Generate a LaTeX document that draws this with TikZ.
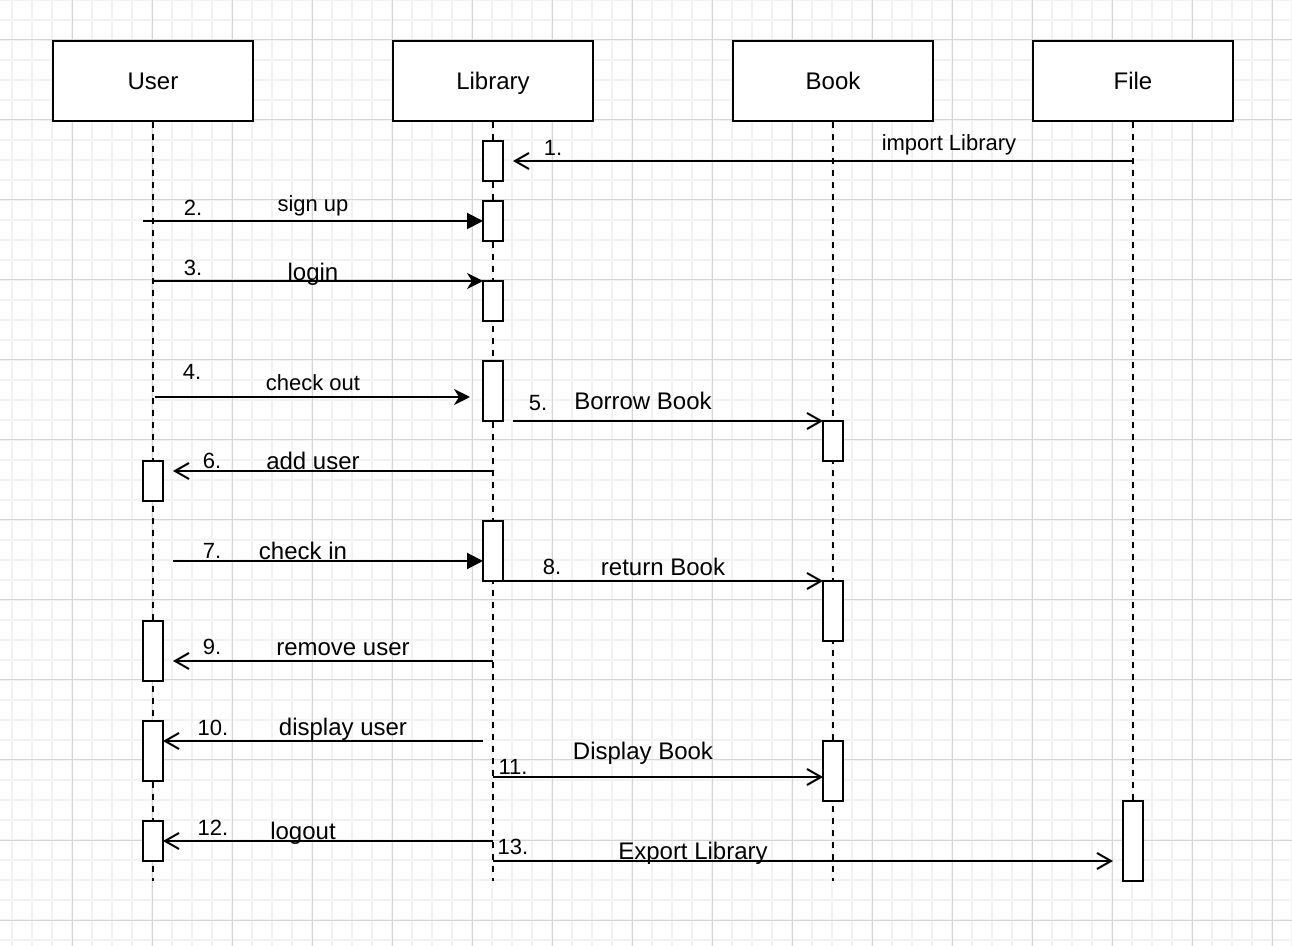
\documentclass[tikz,border=0pt]{standalone}
\usepackage{fontspec}
\setmainfont{Liberation Sans}
\usepackage{xcolor}
\usetikzlibrary{arrows.meta,positioning}
\definecolor{gridminor}{HTML}{F2F2F2}
\definecolor{gridmajor}{HTML}{D4D4D4}
\tikzset{
  head/.style={
    draw,
    line width=1pt,
    fill=white,
    minimum width=100pt,
    minimum height=40pt,
    inner sep=0pt,
    text height=8.6pt,
    text depth=0pt,
    font=\fontsize{12pt}{14pt}\selectfont
  },
  act/.style={
    draw,
    line width=1pt,
    fill=white,
    minimum width=10pt,
    inner sep=0pt,
    outer sep=0pt
  },
  life/.style={line width=1pt, dash pattern=on 3pt off 3pt},
  msg/.style={line width=1pt, -{Straight Barb[length=7pt,width=8pt]}},
  call/.style={line width=1pt, -{Triangle[length=8pt,width=8pt]}},
  send/.style={line width=1pt, -{Stealth[length=8pt,width=8pt,inset=2.5pt]}},
  lbl/.style={inner sep=0pt, text height=8.6pt, text depth=0pt, font=\fontsize{12pt}{14pt}\selectfont},
  smalllbl/.style={inner sep=0pt, text height=8pt, text depth=0pt, font=\fontsize{11pt}{13pt}\selectfont}
}
\begin{document}
\begin{tikzpicture}[x=0.5pt, y=-0.5pt]
  \fill[white] (0,0) rectangle (1292,946);
  \useasboundingbox (0,0) rectangle (1292,946);
  \foreach \x in {12,32,...,1292} \draw[gridminor, line width=1pt] (\x,0) -- (\x,946);
  \foreach \y in {0,20,...,940} \draw[gridminor, line width=1pt] (0,\y) -- (1292,\y);
  \foreach \x in {72,152,...,1272} \draw[gridmajor, line width=0.5pt] (\x,0) -- (\x,946);
  \foreach \y in {40,120,...,920} \draw[gridmajor, line width=0.5pt] (0,\y) -- (1292,\y);

  \node[head] (user) at (153,81) {User};
  \node[head] (lib) at (493,81) {Library};
  \node[head] (book) at (833,81) {Book};
  \node[head] (file) at (1133,81) {File};

  \coordinate (userend) at (153,881);
  \coordinate (libend) at (493,881);
  \coordinate (bookend) at (833,881);
  \coordinate (fileend) at (1133,881);

  \draw[life] (user) -- (userend);
  \draw[life] (lib) -- (libend);
  \draw[life] (book) -- (bookend);
  \draw[life] (file) -- (fileend);

  \node[act, minimum height=20pt] (a1) at (493,161) {};
  \node[act, minimum height=20pt] (a2) at (493,221) {};
  \node[act, minimum height=20pt] (a3) at (493,301) {};
  \node[act, minimum height=30pt] (a4) at (493,391) {};
  \node[act, minimum height=30pt] (a5) at (493,551) {};
  \node[act, minimum height=20pt] (b1) at (833,441) {};
  \node[act, minimum height=30pt] (b2) at (833,611) {};
  \node[act, minimum height=30pt] (b3) at (833,771) {};
  \node[act, minimum height=20pt] (u1) at (153,481) {};
  \node[act, minimum height=30pt] (u2) at (153,651) {};
  \node[act, minimum height=30pt] (u3) at (153,751) {};
  \node[act, minimum height=20pt] (u4) at (153,841) {};
  \node[act, minimum height=40pt] (f1) at (1133,841) {};

  \coordinate (m2s) at (143,221);
  \coordinate (m4s) at (155,397);
  \coordinate (m4e) at (470,397);
  \coordinate (m6s) at (493,471);
  \coordinate (m6e) at (173,471);
  \coordinate (m7s) at (173,561);
  \coordinate (m9s) at (493,661);
  \coordinate (m9e) at (173,661);
  \coordinate (m10s) at (483,741);
  \coordinate (m11s) at (493,777);
  \coordinate (m12s) at (493,841);
  \coordinate (m13s) at (493,861);
  \coordinate (m13e) at (1113,861);

  \draw[msg] (file |- a1) -- ([xshift=5pt]a1.east);
  \draw[call] (m2s) -- (a2.west);
  \draw[send] (user |- a3.north) -- (a3.north west);
  \draw[send] (m4s) -- (m4e);
  \draw[msg] ([xshift=5pt]a4.south east) -- (b1.north west);
  \draw[msg] (m6s) -- (m6e);
  \draw[call] (m7s) -- ([yshift=-5pt]a5.west);
  \draw[msg] (a5.south) -- (b2.north west);
  \draw[msg] (m9s) -- (m9e);
  \draw[msg] (m10s) -- ([yshift=5pt]u3.east);
  \draw[msg] (m11s) -- ([yshift=-3pt]b3.west);
  \draw[msg] (m12s) -- (u4.east);
  \draw[msg] (m13s) -- (m13e);

  \node[smalllbl] (n1) at (553,148) {1.};
  \node[smalllbl] (t1) at (949,143) {import Library};
  \node[smalllbl] (n2) at (193,208) {2.};
  \node[smalllbl] (t2) at (313,204) {sign up};
  \node[smalllbl] (n3) at (193,268) {3.};
  \node[lbl] (t3) at (313,272) {login};
  \node[smalllbl] (n4) at (192,372) {4.};
  \node[smalllbl] (t4) at (313,383) {check out};
  \node[smalllbl] (n5) at (538,403) {5.};
  \node[lbl] (t5) at (643,401) {Borrow Book};
  \node[smalllbl] (n6) at (212,461) {6.};
  \node[lbl] (t6) at (313,461) {add user};
  \node[smalllbl] (n7) at (212,551) {7.};
  \node[lbl] (t7) at (303,551) {check in};
  \node[smalllbl] (n8) at (552,567) {8.};
  \node[lbl] (t8) at (663,567) {return Book};
  \node[smalllbl] (n9) at (212,647) {9.};
  \node[lbl] (t9) at (343,647) {remove user};
  \node[smalllbl] (n10) at (213,727) {10.};
  \node[lbl] (t10) at (343,727) {display user};
  \node[smalllbl] (n11) at (513,767) {11.};
  \node[lbl] (t11) at (643,751) {Display Book};
  \node[smalllbl] (n12) at (213,827) {12.};
  \node[lbl] (t12) at (303,831) {logout};
  \node[smalllbl] (n13) at (513,847) {13.};
  \node[lbl] (t13) at (693,851) {Export Library};
\end{tikzpicture}
\end{document}
